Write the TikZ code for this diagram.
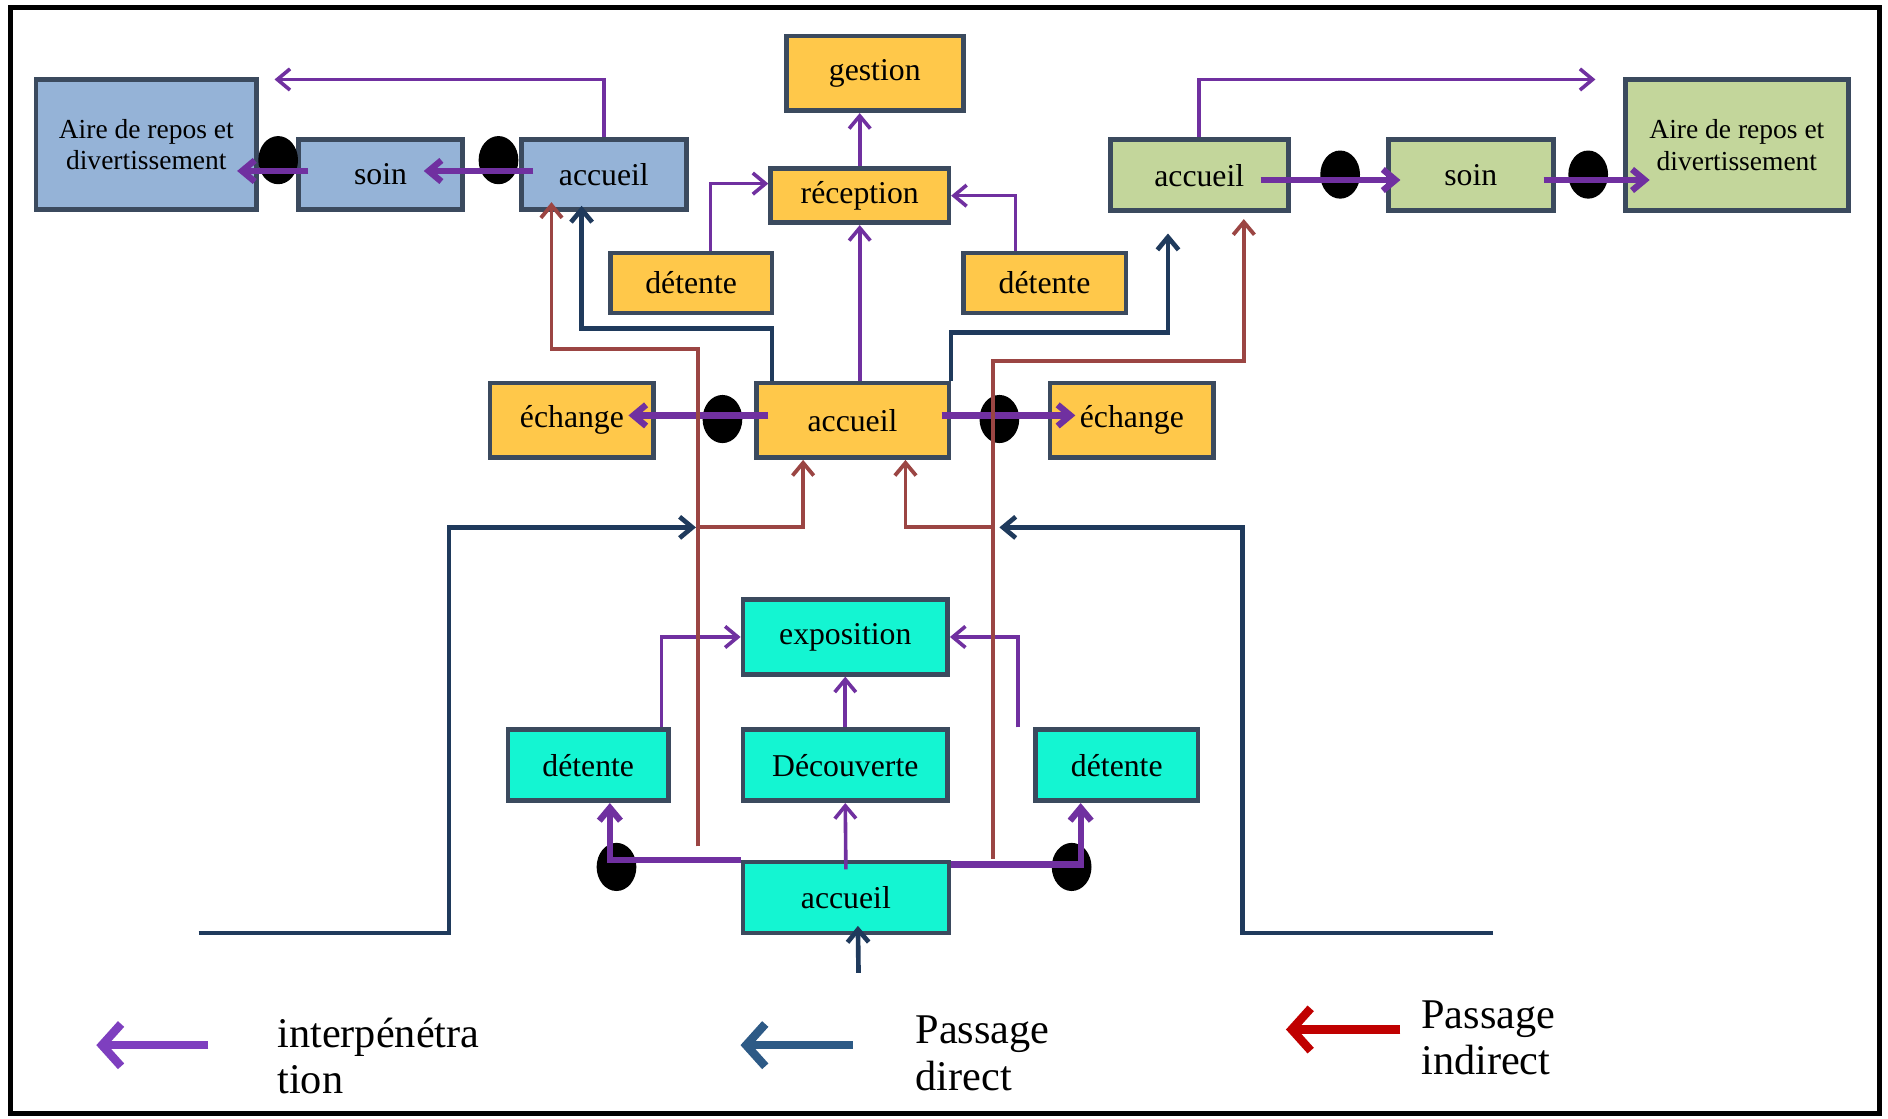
\documentclass[tikz,border=0pt]{standalone}
\usepackage{fontspec}
\setmainfont{Liberation Serif}
\usetikzlibrary{arrows.meta,calc,shapes.geometric,positioning}

\definecolor{zoneBlue}{HTML}{95B3D7}
\definecolor{zoneOrange}{HTML}{FFC84A}
\definecolor{zoneGreen}{HTML}{C3D69B}
\definecolor{zoneCyan}{HTML}{14F5D2}
\definecolor{boxLine}{HTML}{3B4A5E}
\definecolor{interPurple}{HTML}{7030A0}
\definecolor{directNavy}{HTML}{1F3A5C}
\definecolor{indirectBrown}{HTML}{9B4543}
\definecolor{legPurple}{HTML}{7E3FBF}
\definecolor{legNavy}{HTML}{2D5A86}
\definecolor{legRed}{HTML}{C00000}

\begin{document}
\begin{tikzpicture}[
        x=0.02cm, y=-0.02cm,
        box/.style={draw=boxLine, line width=2.2pt, inner sep=0pt, align=center, font=\fontsize{15}{17}\selectfont},
        sz/.style 2 args={minimum width=#1*0.02cm, minimum height=#2*0.02cm},
        airefont/.style={font=\fontsize{13}{15}\selectfont},
        dot/.style={ellipse, fill=black, inner sep=0pt, minimum width=0.66cm, minimum height=0.8cm},
        inter/.style={-{Straight Barb[length=6pt,width=10pt]}, draw=interPurple, line width=1.7pt},
        interbold/.style={inter, line width=3pt},
        direct/.style={-{Straight Barb[length=6pt,width=10pt]}, draw=directNavy, line width=2.2pt},
        indirect/.style={-{Straight Barb[length=6pt,width=10pt]}, draw=indirectBrown, line width=1.8pt},
        legarrow/.style={-{Straight Barb[length=9pt,width=20pt]}, line width=4pt},
        legtext/.style={align=left, anchor=west, inner sep=0pt, font=\fontsize{20}{22}\selectfont}
    ]
        \useasboundingbox (0,0) rectangle (1568,929);
        \fill[white] (0,0) rectangle (1568,929);
        \draw[line width=2.5pt] (9,6) rectangle (1561,925);

        % blue wing
        \node[box, fill=zoneBlue, sz={183}{108}, airefont] (bAire) at (121.5,120) {Aire de repos et\\divertissement};
        \node[box, fill=zoneBlue, sz={136}{58}] (bSoin) at (316,145) {soin};
        \node[box, fill=zoneBlue, sz={137}{58}] (bAcc) at (501.5,145) {accueil};

        % orange centre
        \node[box, fill=zoneOrange, sz={147}{62}] (oGest) at (726.5,61) {gestion};
        \node[box, fill=zoneOrange, sz={148}{45}] (oRec) at (714,162.5) {réception};
        \node[box, fill=zoneOrange, sz={134}{50}] (oDetL) at (574,235) {détente};
        \node[box, fill=zoneOrange, sz={135}{50}] (oDetR) at (867.5,235) {détente};
        \node[box, fill=zoneOrange, sz={160}{62}] (oAcc) at (708,349) {accueil};
        \node[box, fill=zoneOrange, sz={136}{62}] (oEchL) at (475,349) {échange};
        \node[box, fill=zoneOrange, sz={136}{62}] (oEchR) at (940,349) {échange};

        % green wing
        \node[box, fill=zoneGreen, sz={148}{59}] (gAcc) at (996,145.5) {accueil};
        \node[box, fill=zoneGreen, sz={137}{59}] (gSoin) at (1221.5,145.5) {soin};
        \node[box, fill=zoneGreen, sz={185}{109}, airefont] (gAire) at (1442.5,120.5) {Aire de repos et\\divertissement};

        % cyan entrance
        \node[box, fill=zoneCyan, sz={170}{62}] (cExpo) at (702,529) {exposition};
        \node[box, fill=zoneCyan, sz={133}{59}] (cDetL) at (488.5,635.5) {détente};
        \node[box, fill=zoneCyan, sz={170}{59}] (cDec) at (702,635.5) {Découverte};
        \node[box, fill=zoneCyan, sz={135}{59}] (cDetR) at (927.5,635.5) {détente};
        \node[box, fill=zoneCyan, sz={171}{59}] (cAcc) at (702.5,745.5) {accueil};

        % dots
        \node[dot] (dB1) at (231,133) {};
        \node[dot] (dB2) at (414,133) {};
        \node[dot] (dO1) at (600,348) {};
        \node[dot] (dO2) at (830,348) {};
        \node[dot] (dG1) at (1113,145) {};
        \node[dot] (dG2) at (1319,145) {};
        \node[dot] (dC1) at (512,720) {};
        \node[dot] (dC2) at (890,720) {};

        % interpenetration
        \draw[interbold] ($(bAcc.west)+(12,-3)$) -- ($(bSoin.east)+(-34,-3)$);
        \draw[interbold] ($(bSoin.west)+(10,-3)$) -- ($(bAire.east)+(-18,22)$);
        \coordinate (bBack) at (228,66);
        \draw[inter] (bAcc.north) |- (bBack);

        \draw[inter] (oRec.north) -- (oRec.north |- oGest.south);
        \draw[inter] (oRec.south |- oAcc.north) -- (oRec.south);
        \draw[inter] ($(oDetL.north)+(16,0)$) |- ($(oRec.west)+(0,-10)$);
        \draw[inter] ($(oDetR.north)+(-24,0)$) |- (oRec.east);
        \draw[interbold] ($(oAcc.west)+(12,-4)$) -- ($(oEchL.east)+(-23,-4)$);
        \draw[interbold] ($(oAcc.east)+(-8,-4)$) -- ($(oEchR.west)+(23,-4)$);

        \draw[interbold] ($(gAcc.east)+(-25,4)$) -- ($(gSoin.west)+(12,4)$);
        \draw[interbold] ($(gSoin.east)+(-10,4)$) -- ($(gAire.west)+(22,29)$);
        \coordinate (gBack) at (1325,66);
        \draw[inter] (gAcc.north) |- (gBack);

        \draw[inter] (cDec.north) -- (cExpo.south);
        \draw[inter] ($(cAcc.north)+(0,8)$) -- (cDec.south);
        \draw[inter] ($(cDetL.north)+(61,0)$) |- (cExpo.west);
        \draw[inter] ($(cDetR.north)+(-82,0)$) |- (cExpo.east);
        \draw[interbold] (cAcc.north west) -| ($(cDetL.south)+(18,0)$);
        \draw[interbold] ($(cAcc.north east)+(0,4)$) -| ($(cDetR.south)+(-30,0)$);

        % direct passage
        \coordinate (cIn) at (713,808);
        \draw[direct] (cIn) -- ($(cAcc.south)+(10,-8)$);
        \draw[direct] ($(oAcc.north west)+(15,0)$) -- ++(0,-43) -| ($(bAcc.south)+(-18.5,-5)$);
        \draw[direct] (oAcc.north east) -- ++(0,-40) -| ($(gAcc.south)+(-26,17)$);
        \coordinate (dirLa) at (165,775);
        \coordinate (dirLb) at (578,438);
        \draw[direct] (dirLa) -- ++(208,0) |- (dirLb);
        \coordinate (dirRa) at (1240,775);
        \coordinate (dirRb) at (830,438);
        \draw[direct] (dirRa) -- ++(-208,0) |- (dirRb);

        % indirect passage
        \coordinate (indL) at (580,703);
        \coordinate (indR) at (825,713);
        \draw[indirect] (indL) -- ++(0,-413) -| ($(bAcc.south)+(-43.5,-8)$);
        \draw[indirect] (indR) -- ++(0,-413) -| ($(gAcc.south)+(37,5)$);
        \draw[indirect] ($(indL)+(0,-265)$) -| ($(oAcc.south)+(-41,0)$);
        \draw[indirect] ($(indR)+(0,-275)$) -| ($(oAcc.south)+(44,0)$);

        % legend
        \node[legtext] (lgInter) at (230,877) {interpénétra\\tion};
        \node[legtext] (lgDirect) at (760,875) {Passage\\direct};
        \node[legtext] (lgIndirect) at (1180,862) {Passage\\indirect};
        \draw[legarrow, legPurple] ($(lgInter.west)+(-57,-9)$) -- ++(-93,0);
        \draw[legarrow, legNavy] ($(lgDirect.west)+(-52,-7)$) -- ++(-93,0);
        \draw[legarrow, legRed] ($(lgIndirect.west)+(-17,-7)$) -- ++(-95,0);
    \end{tikzpicture}
\end{document}
